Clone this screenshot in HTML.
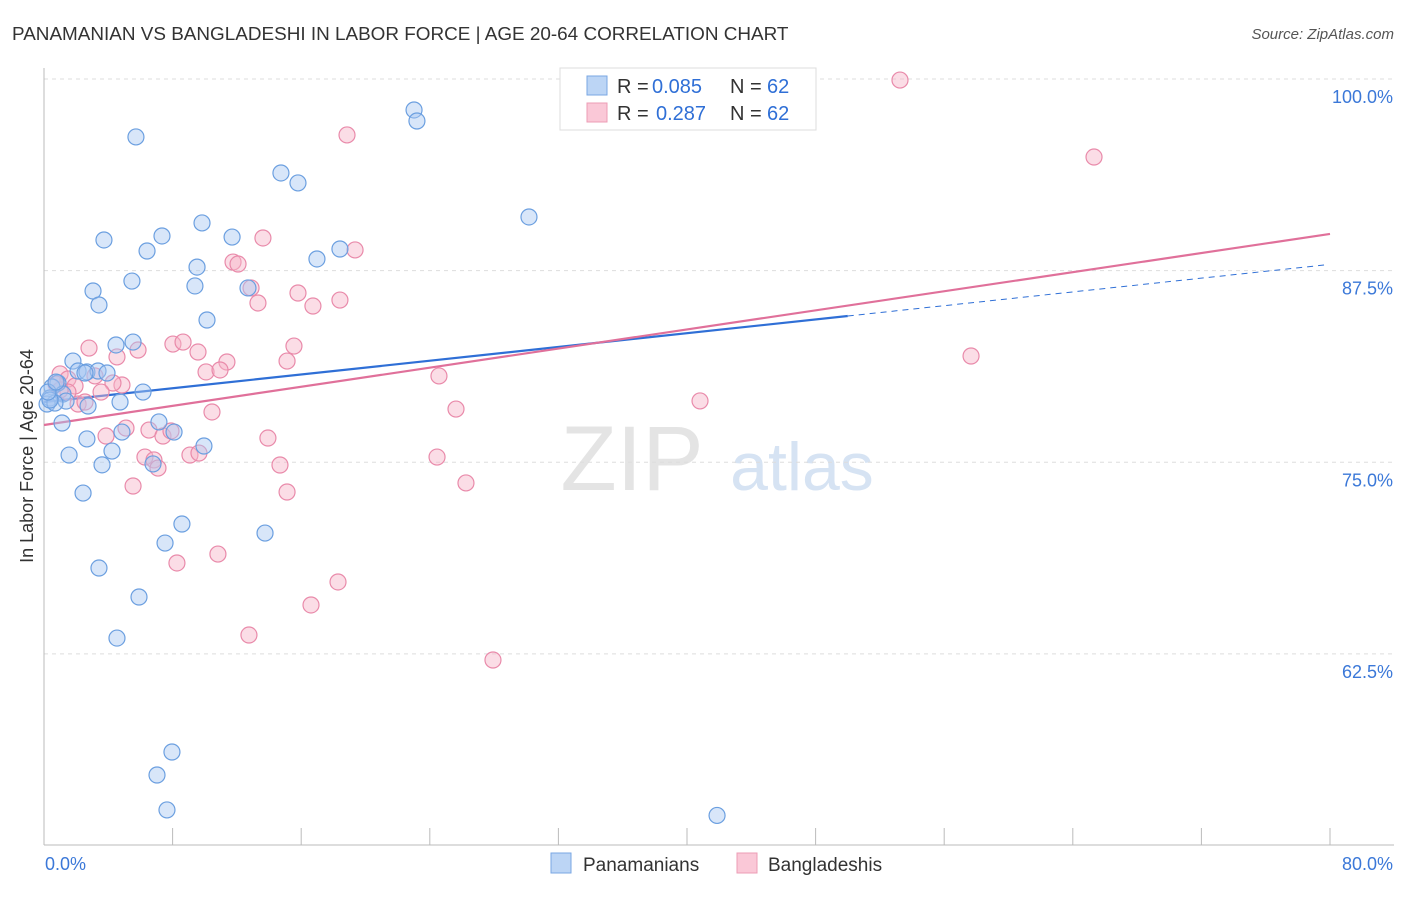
<!DOCTYPE html>
<html><head><meta charset="utf-8"><style>
body{margin:0;background:#fff;font-family:"Liberation Sans",sans-serif;}
svg text{font-family:"Liberation Sans",sans-serif;}
</style></head><body>
<svg id="chart" width="1406" height="892">
<text x="12" y="40" font-size="18.9" fill="#333">PANAMANIAN VS BANGLADESHI IN LABOR FORCE | AGE 20-64 CORRELATION CHART</text>
<text x="1394" y="39" font-size="15" fill="#555" text-anchor="end" font-style="italic">Source: ZipAtlas.com</text>
<text x="33" y="456" font-size="18" fill="#333" text-anchor="middle" transform="rotate(-90 33 456)">In Labor Force | Age 20-64</text>
<g><text x="632" y="490" font-size="92" fill="#e4e4e4" font-family="Liberation Serif" text-anchor="middle">ZIP</text><text x="802" y="490" font-size="68" fill="#d6e3f3" text-anchor="middle">atlas</text></g>
<g id="grid"></g><g id="axes"></g><g id="lines"></g><g id="pts"></g>
<g>
<rect x="560" y="68" width="256" height="62" fill="#fff" stroke="#ddd"/>
<rect x="587" y="76" width="20" height="19" fill="#bcd5f5" stroke="#7aa7e3"/>
<rect x="587" y="103" width="20" height="19" fill="#fac8d7" stroke="#ec9cb6"/>
<text y="93" font-size="20" fill="#333"><tspan x="617">R =</tspan><tspan x="652" fill="#2f6fd6">0.085</tspan><tspan x="730">N =</tspan><tspan x="767" fill="#2f6fd6">62</tspan></text>
<text y="120" font-size="20" fill="#333"><tspan x="617">R =</tspan><tspan x="656" fill="#2f6fd6">0.287</tspan><tspan x="730">N =</tspan><tspan x="767" fill="#2f6fd6">62</tspan></text>
</g>
<g>
<rect x="551" y="853" width="20" height="20" fill="#bcd5f5" stroke="#7aa7e3"/>
<text x="583" y="871" font-size="19" fill="#333">Panamanians</text>
<rect x="737" y="853" width="20" height="20" fill="#fac8d7" stroke="#ec9cb6"/>
<text x="768" y="871" font-size="19" fill="#333">Bangladeshis</text>
</g>
</svg>
<script>
const yTicks=[100,87.5,75,62.5];
const yTickLabels=["100.0%","87.5%","75.0%","62.5%"];
const xEndLabels=["0.0%","80.0%"];
const blueX=[5.72,23.02,23.2,14.74,15.8,30.17,3.73,7.34,9.83,11.7,6.41,16.98,18.41,9.52,5.47,9.39,12.69,3.05,3.42,10.14,4.48,5.54,1.8,2.12,2.67,3.36,3.92,2.55,0.87,0.5,0.37,1.18,1.37,0.19,0.68,2.74,4.73,6.16,1.12,7.15,8.09,4.85,2.67,4.23,1.56,9.95,3.61,6.78,2.43,8.58,13.75,7.53,3.42,5.91,4.54,7.96,7.03,7.65,41.87,0.37,0.25,0.75];
const blueY=[96.22,97.98,97.26,93.87,93.22,91,89.5,89.76,90.61,89.69,88.78,88.26,88.91,87.73,86.82,86.5,86.37,86.17,85.26,84.28,82.65,82.84,81.6,80.95,80.89,80.95,80.82,80.82,80.17,79.91,79.19,79.45,78.99,78.8,78.86,78.67,78.93,79.58,77.56,77.63,76.97,76.97,76.52,75.73,75.47,76.06,74.83,74.89,72.99,70.97,70.38,69.73,68.1,66.21,63.53,56.1,54.6,52.32,51.96,79.06,79.58,80.23];
const pinkX=[53.25,18.85,65.32,13.62,19.35,11.76,12.07,12.88,15.8,18.41,16.73,13.31,2.8,5.85,4.54,8.02,8.65,9.58,15.55,11.38,15.12,10.08,10.95,24.57,1,1.49,1.93,3.17,4.85,4.29,3.55,1.49,2.12,25.63,10.45,40.81,57.67,3.86,5.1,6.53,7.4,7.9,13.93,6.28,6.84,7.09,9.08,9.64,24.45,14.68,26.25,5.54,15.12,10.82,8.27,18.29,16.61,12.75,27.93,1,2.55,0.75];
const pinkY=[99.93,96.35,94.91,89.63,88.85,88.06,87.93,86.37,86.04,85.58,85.19,85.39,82.45,82.32,81.87,82.71,82.84,82.19,82.58,81.54,81.6,80.89,81.02,80.63,80.76,80.43,79.97,80.63,80.04,80.17,79.58,79.58,78.8,78.47,78.28,79,81.93,76.71,77.23,77.1,76.71,77.04,76.58,75.34,75.15,74.62,75.47,75.6,75.34,74.82,73.65,73.45,73.06,69.01,68.43,67.19,65.69,63.73,62.1,79.71,78.93,80.1];
const blueTrend=[78.93,0.1122];
const pinkTrend=[77.43,0.1558];
const NS="http://www.w3.org/2000/svg";
const X=v=>44+v*16.075, Y=v=>79+(100-v)*15.33;
function mk(tag,attrs,parent){const e=document.createElementNS(NS,tag);for(const k in attrs)e.setAttribute(k,attrs[k]);document.getElementById(parent).appendChild(e);return e;}
yTicks.forEach((t,i)=>{
 const l=mk('line',{x1:44,x2:1394,y1:Y(t),y2:Y(t),stroke:'#ddd','stroke-dasharray':'4,4'},'grid');
 
 
 const tx=mk('text',{x:1393,y:Y(t)+24,'font-size':18,fill:'#3b78d8','text-anchor':'end'},'grid');
 tx.textContent=yTickLabels[i];
 
 
});
const ax=mk('line',{x1:44,x2:44,y1:68,y2:845,stroke:'#bbb'},'axes');


const bx=mk('line',{x1:44,x2:1394,y1:845,y2:845,stroke:'#bbb'},'axes');


for(let i=0;i<=10;i++){const t=mk('line',{x1:X(i*8),x2:X(i*8),y1:828,y2:845,stroke:'#bbb'},'axes');
 
 }
[0,80].forEach((v,i)=>{const t=mk('text',{x:i?1393:45,y:870,'font-size':18,fill:'#3b78d8','text-anchor':i?'end':'start'},'axes');t.textContent=xEndLabels[i];
 
 });
function dots(xs,ys,fill,stroke,name){xs.forEach((x,i)=>{const c=mk('circle',{cx:X(x),cy:Y(ys[i]),r:8,fill:fill,'fill-opacity':0.45,stroke:stroke,'stroke-width':1.2},'pts');
 
 });}
dots(pinkX,pinkY,'#f7b3c8','#e98aaa','bangladeshi-point');
dots(blueX,blueY,'#a8c8f2','#6b9fe0','panamanian-point');
const bl=mk('line',{x1:X(0),y1:Y(blueTrend[0]),x2:X(50),y2:Y(blueTrend[0]+blueTrend[1]*50),stroke:'#2f6fd6','stroke-width':2.2},'lines');


const bd=mk('line',{x1:X(50),y1:Y(blueTrend[0]+blueTrend[1]*50),x2:X(79.7),y2:Y(blueTrend[0]+blueTrend[1]*79.7),stroke:'#2f6fd6','stroke-width':1,'stroke-dasharray':'6,5'},'lines');


const pl=mk('line',{x1:X(0),y1:Y(pinkTrend[0]),x2:X(80),y2:Y(pinkTrend[0]+pinkTrend[1]*80),stroke:'#e0709a','stroke-width':2.2},'lines');


</script>
</body></html>
